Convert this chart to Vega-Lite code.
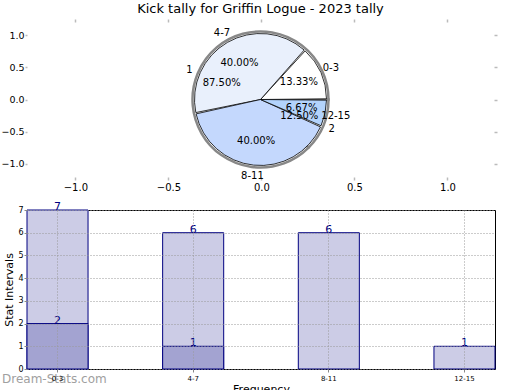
{
  "$schema": "https://vega.github.io/schema/vega-lite/v6.json",
  "padding": {"left": 0, "top": 3, "right": 5, "bottom": 0},
  "config": {
    "font": "DejaVu Sans",
    "axis": {"labelColor": "black", "titleColor": "black", "labelFont": "DejaVu Sans", "titleFont": "DejaVu Sans"}
  },
  "datasets": {
    "ranges": [
      {"r": "0-3", "i": 0, "share": 0.133333},
      {"r": "4-7", "i": 1, "share": 0.4},
      {"r": "8-11", "i": 2, "share": 0.4},
      {"r": "12-15", "i": 3, "share": 0.066667}
    ],
    "outcome": [
      {"k": "1", "i": 0, "share": 0.875},
      {"k": "2", "i": 1, "share": 0.125}
    ],
    "bars": [
      {"r": "0-3", "total": 7, "made": 2},
      {"r": "4-7", "total": 6, "made": 1},
      {"r": "8-11", "total": 6, "made": 0},
      {"r": "12-15", "total": 1, "made": 0}
    ]
  },
  "spacing": 8,
  "vconcat": [
    {
      "width": 467,
      "height": 155,
      "title": {"text": "Kick tally for Griffin Logue - 2023 tally", "fontSize": 13, "fontWeight": "normal", "offset": 2, "color": "black"},
      "view": {"stroke": null},
      "resolve": {"axis": {"x": "independent", "y": "independent"}},
      "layer": [
        {
          "data": {"values": [{}]},
          "mark": {"type": "point", "opacity": 0},
          "encoding": {
            "x": {"datum": 0, "type": "quantitative", "scale": {"domain": [-1.26, 1.25], "nice": false, "zero": false},
              "axis": {"values": [-1, -0.5, 0, 0.5, 1], "format": ".1f", "title": null, "domain": false, "grid": false, "tickColor": "#bbbbbb", "tickWidth": 1.5, "tickSize": 3, "labelFontSize": 10, "labelPadding": 2}},
            "y": {"datum": 0, "type": "quantitative", "scale": {"domain": [-1.21, 1.21], "nice": false, "zero": false},
              "axis": {"values": [-1, -0.5, 0, 0.5, 1], "format": ".1f", "title": null, "domain": false, "grid": false, "tickColor": "#bbbbbb", "tickWidth": 1.5, "tickSize": 2, "labelFontSize": 9.5, "labelPadding": 1}}
          }
        },
        {
          "data": {"values": [{}]},
          "mark": {"type": "point", "opacity": 0},
          "encoding": {
            "x": {"datum": 0, "type": "quantitative",
              "axis": {"orient": "top", "values": [-1, -0.5, 0, 0.5, 1], "labels": false, "title": null, "domain": false, "grid": false, "tickColor": "#bbbbbb", "tickWidth": 1.5, "tickSize": 3}},
            "y": {"datum": 0, "type": "quantitative",
              "axis": {"orient": "right", "values": [-1, -0.5, 0, 0.5, 1], "labels": false, "title": null, "domain": false, "grid": false, "tickColor": "#bbbbbb", "tickWidth": 1.5, "tickSize": 3}}
          }
        },
        {
          "data": {"name": "outcome"},
          "mark": {"type": "arc", "outerRadius": 68, "fill": "white", "stroke": "#888888", "strokeWidth": 2.5},
          "encoding": {
            "theta": {"field": "share", "type": "quantitative", "stack": true, "scale": {"domain": [0, 1], "range": [1.5708, -4.7124]}},
            "order": {"field": "i"}
          }
        },
        {
          "data": {"name": "ranges"},
          "mark": {"type": "arc", "outerRadius": 66, "stroke": "black", "strokeWidth": 0.8, "padAngle": 0.02},
          "encoding": {
            "theta": {"field": "share", "type": "quantitative", "stack": true},
            "order": {"field": "i"},
            "color": {"field": "r", "type": "nominal", "legend": null,
              "scale": {"domain": ["0-3", "4-7", "8-11", "12-15"], "range": ["#ffffff", "#e9f0fc", "#c4d8fd", "#b3d3fc"]}}
          }
        },
        {
          "data": {"name": "ranges"},
          "mark": {"type": "text", "radius": 42, "fontSize": 10, "color": "black"},
          "encoding": {
            "theta": {"field": "share", "type": "quantitative", "stack": true},
            "order": {"field": "i"},
            "text": {"field": "share", "type": "quantitative", "format": ".2%"}
          }
        },
        {
          "data": {"name": "ranges"},
          "mark": {"type": "text", "radius": 77, "fontSize": 10, "color": "black"},
          "encoding": {
            "theta": {"field": "share", "type": "quantitative", "stack": true},
            "order": {"field": "i"},
            "text": {"field": "r", "type": "nominal"}
          }
        },
        {
          "data": {"name": "outcome"},
          "mark": {"type": "text", "radius": 42, "fontSize": 10, "color": "black"},
          "encoding": {
            "theta": {"field": "share", "type": "quantitative", "stack": true},
            "order": {"field": "i"},
            "text": {"field": "share", "type": "quantitative", "format": ".2%"}
          }
        },
        {
          "data": {"name": "outcome"},
          "mark": {"type": "text", "radius": 77, "fontSize": 10, "color": "black"},
          "encoding": {
            "theta": {"field": "share", "type": "quantitative", "stack": true},
            "order": {"field": "i"},
            "text": {"field": "k", "type": "nominal"}
          }
        }
      ]
    },
    {
      "width": 468,
      "height": 159,
      "data": {"name": "bars"},
      "title": {"text": "Dream-Stats.com", "orient": "bottom", "anchor": "start", "frame": "group", "offset": -20, "dx": -25, "fontSize": 12, "fontWeight": "normal", "color": "#a0a0a0"},
      "view": {"stroke": "black", "strokeWidth": 1},
      "encoding": {
        "x": {"field": "r", "type": "nominal", "sort": ["0-3", "4-7", "8-11", "12-15"],
          "scale": {"paddingInner": 0.55, "paddingOuter": 0},
          "axis": {"labelAngle": 0, "labelFontSize": 7, "title": "Frequency", "titleFontSize": 11, "titleFontWeight": "normal", "titlePadding": 2,
            "grid": true, "gridDash": [1, 2], "gridColor": "#999999", "domain": false, "tickSize": 3, "tickColor": "#888888", "labelPadding": 2, "zindex": 1}},
        "y": {"type": "quantitative", "scale": {"domain": [0, 7], "nice": false},
          "axis": {"values": [0, 1, 2, 3, 4, 5, 6, 7], "labelFontSize": 8, "title": "Stat Intervals", "titleFontSize": 11, "titleFontWeight": "normal", "titlePadding": 3,
            "grid": true, "gridDash": [1, 2], "gridColor": "#999999", "domain": false, "tickSize": 3, "tickColor": "#888888", "labelPadding": 1, "zindex": 1}}
      },
      "layer": [
        {
          "mark": {"type": "bar", "fill": "#ccccE6", "stroke": "navy", "strokeWidth": 1},
          "encoding": {"y": {"field": "total", "type": "quantitative"}}
        },
        {
          "transform": [{"filter": "datum.made > 0"}],
          "mark": {"type": "bar", "fill": "#a3a3d1", "stroke": "navy", "strokeWidth": 1},
          "encoding": {"y": {"field": "made", "type": "quantitative"}}
        },
        {
          "mark": {"type": "text", "baseline": "bottom", "color": "navy", "fontSize": 11, "dy": 2},
          "encoding": {"y": {"field": "total", "type": "quantitative"}, "text": {"field": "total", "type": "quantitative"}}
        },
        {
          "transform": [{"filter": "datum.made > 0"}],
          "mark": {"type": "text", "baseline": "bottom", "color": "navy", "fontSize": 11, "dy": 2},
          "encoding": {"y": {"field": "made", "type": "quantitative"}, "text": {"field": "made", "type": "quantitative"}}
        }
      ]
    }
  ]
}
